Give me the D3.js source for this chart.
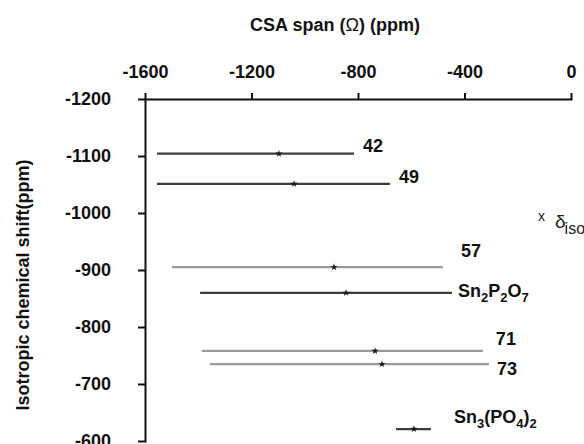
<!DOCTYPE html>
<html>
  <head>
    <meta charset="utf-8">
    <title>CSA span vs isotropic shift</title>
    <script src="https://d3js.org/d3.v7.min.js"></script>
    <style>
      body { margin: 0; background: #fff; }
      svg { display: block; font-family: "Liberation Sans", Arial, sans-serif; }
      .axis path, .axis line { stroke: #111; stroke-width: 2; }
      .axis text { font-size: 18px; font-weight: bold; fill: #111; }
      .lbl { font-size: 18px; font-weight: bold; fill: #111; }
    </style>
  </head>
  <body>
    <svg id="chart" width="584" height="444"></svg>
    <script>
      // samples (labels as printed next to each span)
      var names = ["42", "49", "57", "Sn2P2O7", "71", "73", "Sn3(PO4)2"];
      // isotropic chemical shift, y position (ppm)
      var shift = [-1104, -1051, -905, -860, -758, -735, -621];
      // span ends on the CSA axis (ppm)
      var spanMin = [-1555, -1555, -1499, -1393, -1386, -1356, -657];
      var spanMax = [-815, -680, -481, -447, -331, -308, -526];
      // delta iso marker on the CSA axis (ppm)
      var isoX = [-1097, -1040, -890, -845, -736, -710, -590];
      // axis ticks
      var xTicks = [-1600, -1200, -800, -400, 0];
      var yTicks = [-1200, -1100, -1000, -900, -800, -700, -600];

      // layout only: line tone and label nudges
      var tone = ["#3c3c3c", "#3c3c3c", "#9a9a9a", "#3c3c3c", "#9a9a9a", "#9a9a9a", "#3c3c3c"];
      var nudge = [[9, -2], [9, -1], [18, -10], [6, 4], [13, -6], [8, 11], [23, -6]];

      var svg = d3.select("#chart");
      var x = d3.scaleLinear().domain([-1600, 0]).range([145, 571]);
      var y = d3.scaleLinear().domain([-1200, -600]).range([99, 441]);
      var plain = function(d) { return String(d); }; // hyphen minus, as printed

      // title
      var title = svg.append("text")
        .attr("x", 335).attr("y", 31)
        .attr("text-anchor", "middle")
        .attr("class", "lbl");
      title.append("tspan").text("CSA span (");
      title.append("tspan").attr("font-weight", "normal").text("\u03A9");
      title.append("tspan").text(") (ppm)");

      svg.append("g")
        .attr("class", "axis")
        .attr("transform", "translate(0," + y(-1200) + ")")
        .call(d3.axisTop(x).tickValues(xTicks).tickFormat(plain)
          .tickSize(6).tickSizeOuter(0).tickPadding(15));

      svg.append("g")
        .attr("class", "axis")
        .attr("transform", "translate(" + x(-1600) + ",0)")
        .call(d3.axisLeft(y).tickValues(yTicks).tickFormat(plain)
          .tickSize(7).tickSizeOuter(0).tickPadding(27));

      svg.selectAll(".axis text").attr("font-family", "Liberation Sans, Arial, sans-serif");
      svg.selectAll(".axis .domain").attr("stroke-linecap", "square");

      svg.append("text")
        .attr("class", "lbl")
        .attr("transform", "translate(29,285) rotate(-90)")
        .attr("text-anchor", "middle")
        .text("Isotropic chemical shift(ppm)");

      var idx = d3.range(names.length);

      svg.selectAll(".span")
        .data(idx)
        .enter().append("line")
          .attr("class", "span")
          .attr("x1", function(i) { return x(spanMin[i]); })
          .attr("x2", function(i) { return x(spanMax[i]); })
          .attr("y1", function(i) { return y(shift[i]); })
          .attr("y2", function(i) { return y(shift[i]); })
          .attr("stroke", function(i) { return tone[i]; })
          .attr("stroke-width", 2.2);

      svg.selectAll(".iso")
        .data(idx)
        .enter().append("path")
          .attr("class", "iso")
          .attr("transform", function(i) { return "translate(" + x(isoX[i]) + "," + y(shift[i]) + ")"; })
          .attr("d", d3.symbol(d3.symbolStar, 16))
          .attr("fill", "#1a1a1a");

      // labels, digits after a letter or ")" become subscripts
      var labels = svg.selectAll(".name")
        .data(idx)
        .enter().append("text")
          .attr("class", "lbl name")
          .attr("x", function(i) { return x(spanMax[i]) + nudge[i][0]; })
          .attr("y", function(i) { return y(shift[i]) + nudge[i][1]; });
      labels.each(function(i) {
        var t = d3.select(this), s = names[i], low = false;
        for (var k = 0; k < s.length; k++) {
          var c = s[k];
          var sub = /[0-9]/.test(c) && k > 0 && /[A-Za-z)]/.test(s[k - 1]);
          var span = t.append("tspan").text(c);
          if (sub && !low) { span.attr("dy", 5).attr("font-size", "13px"); low = true; }
          else if (sub) { span.attr("font-size", "13px"); }
          else if (low) { span.attr("dy", -5); low = false; }
        }
      });

      // legend
      var leg = svg.append("g").attr("transform", "translate(538,221)");
      leg.append("text").attr("font-size", "14px").attr("fill", "#222").text("x");
      var dl = leg.append("text").attr("x", 17).attr("y", 7).attr("fill", "#222");
      dl.append("tspan").attr("font-size", "19px").text("\u03B4");
      dl.append("tspan").attr("font-size", "16px").attr("dy", 6).attr("dx", -1).text("iso");
    </script>
  </body>
</html>
